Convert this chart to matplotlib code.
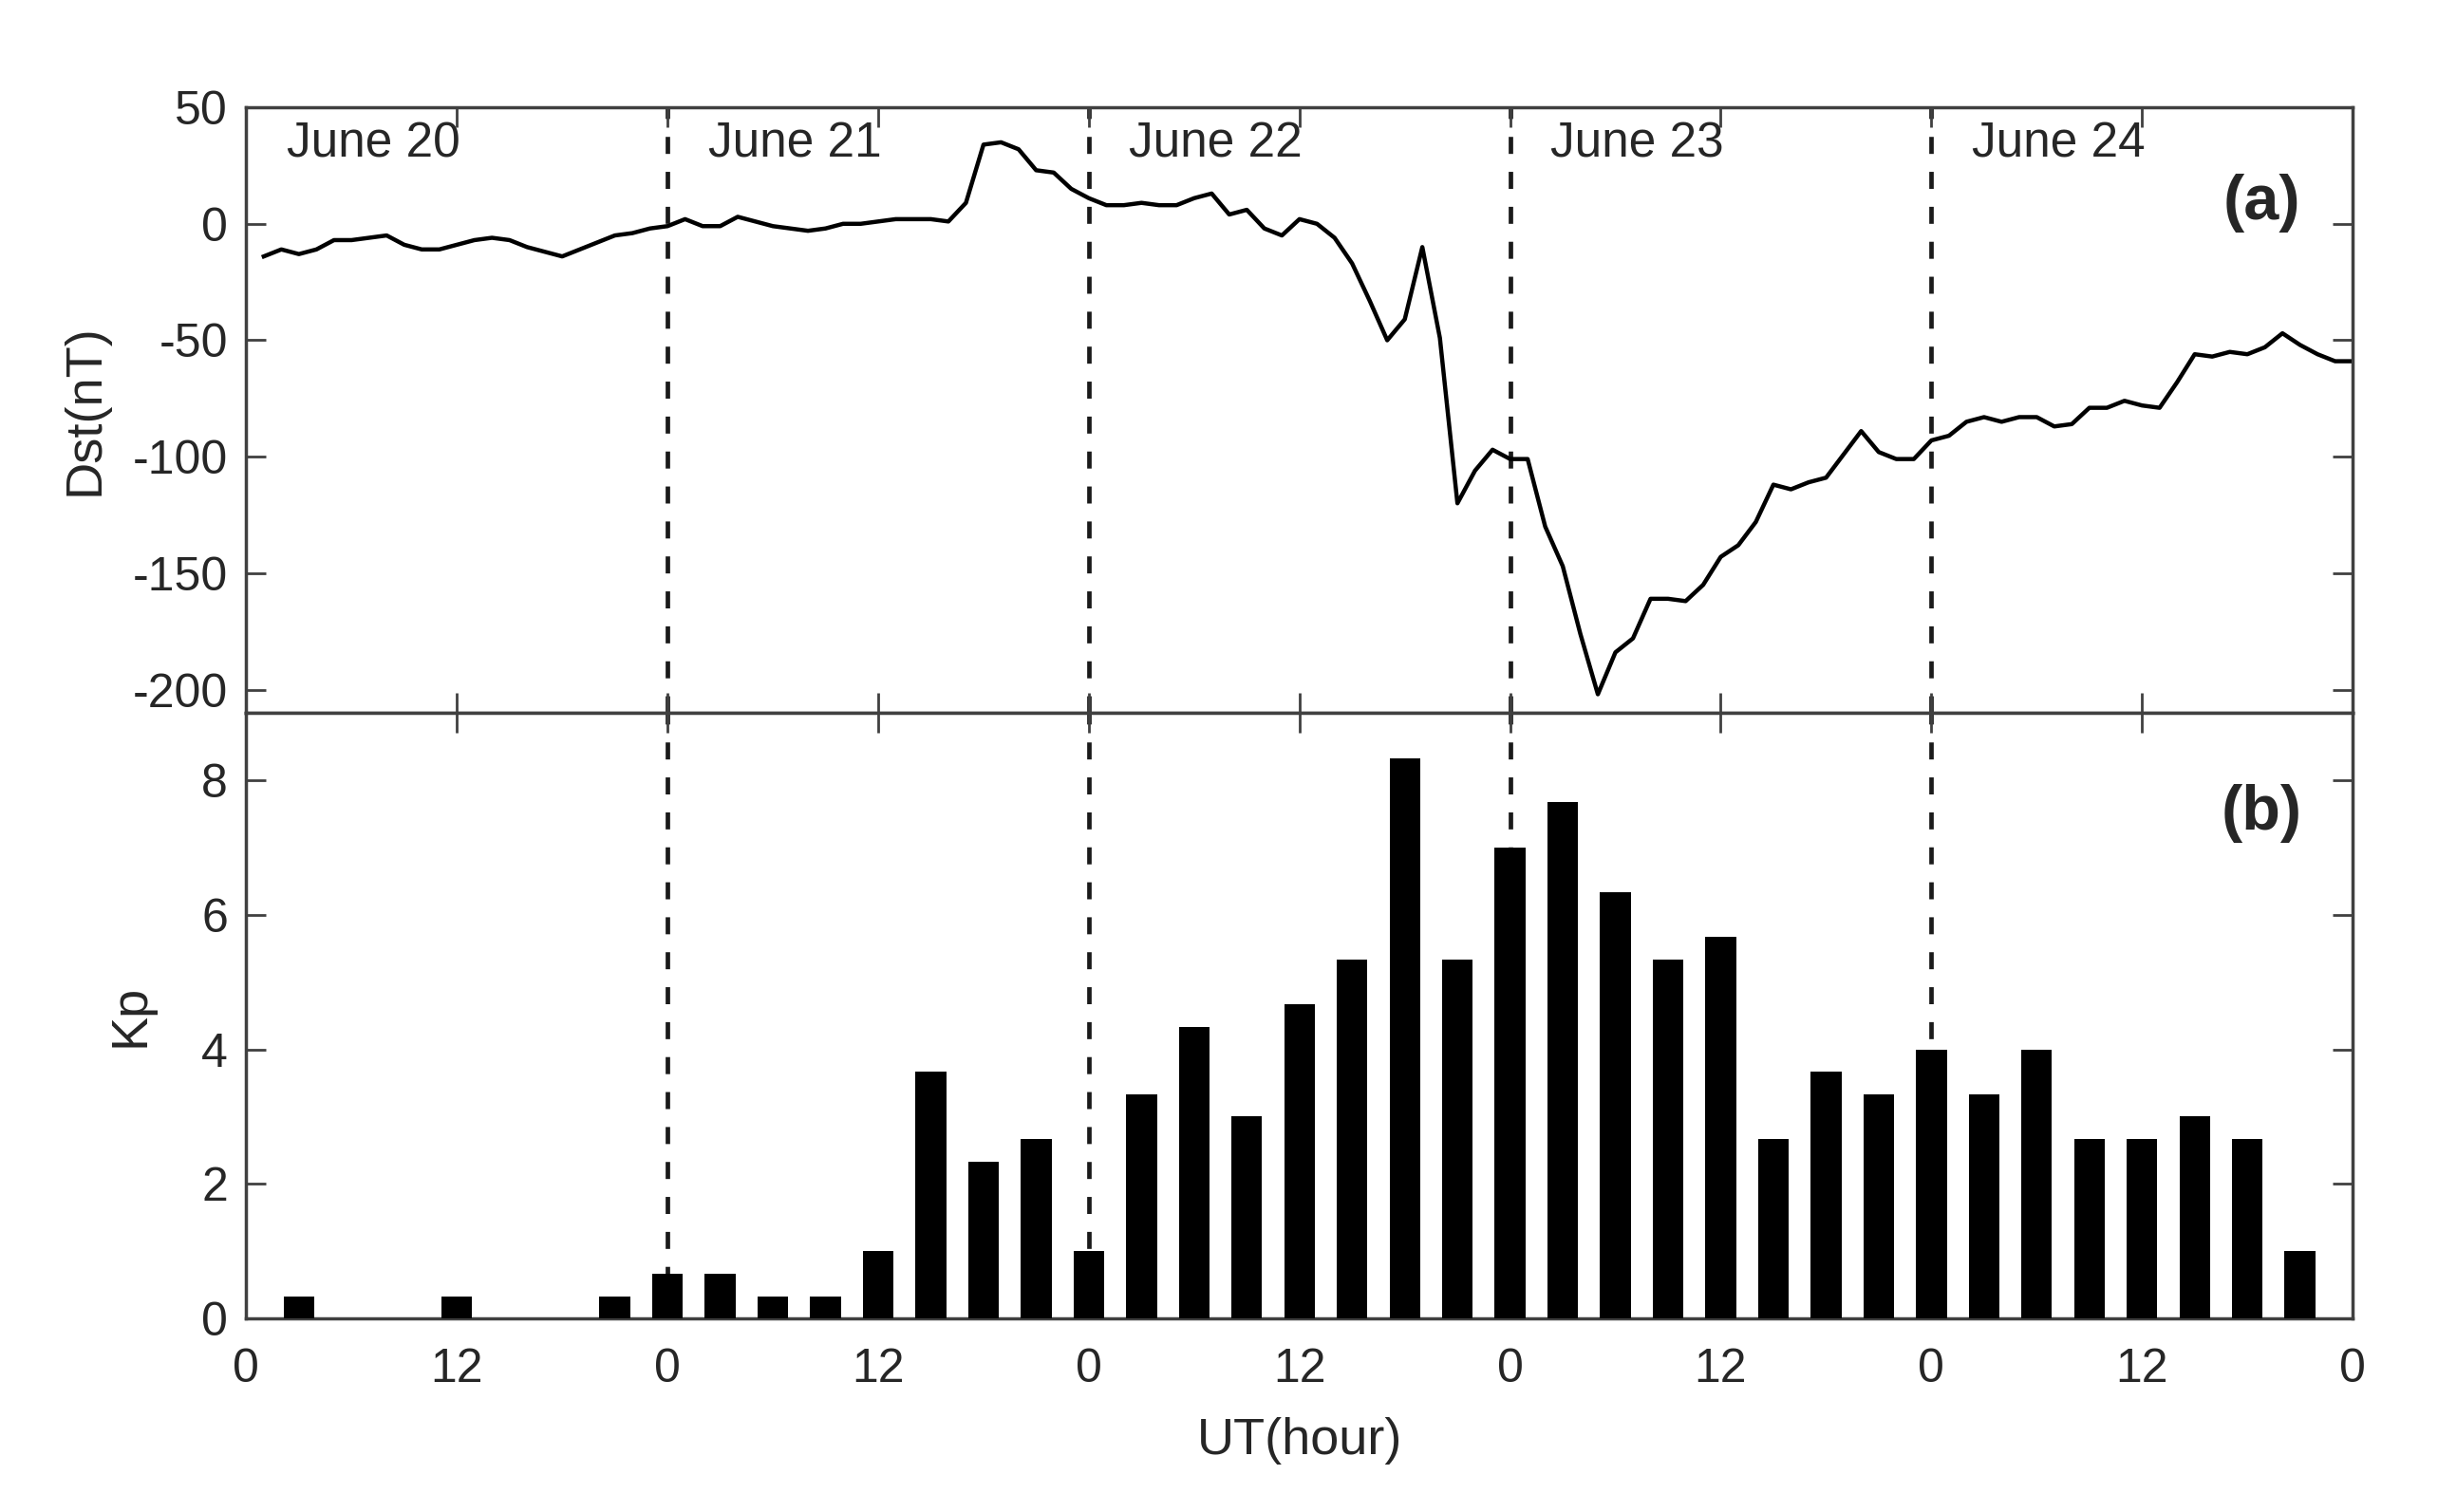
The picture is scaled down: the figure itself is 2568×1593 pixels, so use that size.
import matplotlib
matplotlib.use('Agg')
import numpy as np
import matplotlib.pyplot as plt

plt.rcParams['font.family'] = ['Liberation Sans', 'DejaVu Sans']
plt.rcParams['axes.unicode_minus'] = False

# hourly Dst (nT), hours 1..120 starting 20 June 00 UT
hours = np.arange(1, 121)
dst = [-14, -11, -13, -11, -7, -7, -6, -5, -9, -11, -11, -9,
       -7, -6, -7, -10, -12, -14, -11, -8, -5, -4, -2, -1,
       2, -1, -1, 3, 1, -1, -2, -3, -2, 0, 0, 1,
       2, 2, 2, 1, 9, 34, 35, 32, 23, 22, 15, 11,
       8, 8, 9, 8, 8, 11, 13, 4, 6, -2, -5, 2,
       0, -6, -17, -33, -50, -41, -10, -49, -120, -106, -97, -101,
       -101, -130, -147, -176, -202, -184, -178, -161, -161, -162, -155, -143,
       -138, -128, -112, -114, -111, -109, -99, -89, -98, -101, -101, -93,
       -91, -85, -83, -85, -83, -83, -87, -86, -79, -79, -76, -78,
       -79, -68, -56, -57, -55, -56, -53, -47, -52, -56, -59, -59]

# 3-hourly Kp
kp_hours = np.arange(3, 120, 3)
kp = [0.33, 0, 0, 0.33, 0, 0, 0.33, 0.67, 0.67, 0.33, 0.33, 1.0, 3.67,
      2.33, 2.67, 1.0, 3.33, 4.33, 3.0, 4.67, 5.33, 8.33, 5.33, 7.0, 7.67,
      6.33, 5.33, 5.67, 2.67, 3.67, 3.33, 4.0, 3.33, 4.0, 2.67, 2.67, 3.0,
      2.67, 1.0]

days = ['June 20', 'June 21', 'June 22', 'June 23', 'June 24']
day_starts = [0, 24, 48, 72, 96]
xticks = np.arange(0, 121, 12)
xticklabels = ['0', '12'] * 5 + ['0']

txt = '#262626'
spine = '#404040'

fig, (ax1, ax2) = plt.subplots(2, 1, sharex=True, figsize=(25.68, 15.93), dpi=100)
fig.subplots_adjust(left=0.101, right=0.965, top=0.929, bottom=0.128, hspace=0)

ax1.plot(hours, dst, color='black', lw=3.2)
ax2.bar(kp_hours, kp, width=1.75, color='black', zorder=3)

for ax in (ax1, ax2):
    for d in day_starts[1:]:
        ax.axvline(d, color='#1a1a1a', lw=3.4, ls=(0, (3.8, 4)), zorder=1)
    ax.tick_params(direction='in', length=15, width=2, top=True, right=True,
                   labelsize=36, colors=spine, labelcolor=txt, pad=14)
    for s in ax.spines.values():
        s.set_color(spine)
        s.set_linewidth(2.5)

# panel (a)
ax1.set_xlim(0, 120)
ax1.set_ylim(-210, 50)
ax1.set_yticks([50, 0, -50, -100, -150, -200])
ax1.set_ylabel('Dst(nT)', fontsize=39, color=txt, labelpad=18)
for d, name in zip(day_starts, days):
    ax1.text(d + 2.3, 34, name, fontsize=37, color=txt, va='center', ha='left')
ax1.text(114.8, 9, '(a)', fontsize=48, fontweight='bold', color=txt,
         ha='center', va='center')

# panel (b)
ax2.set_ylim(0, 9)
ax2.set_yticks([0, 2, 4, 6, 8])
ax2.set_xticks(xticks)
ax2.set_xticklabels(xticklabels)
ax2.tick_params(axis='x', pad=22)
ax2.set_ylabel('Kp', fontsize=39, color=txt, labelpad=36)
ax2.set_xlabel('UT(hour)', fontsize=39, color=txt, labelpad=20)
ax2.text(114.8, 7.5, '(b)', fontsize=48, fontweight='bold', color=txt,
         ha='center', va='center')

fig.savefig('out.png', dpi=100)
